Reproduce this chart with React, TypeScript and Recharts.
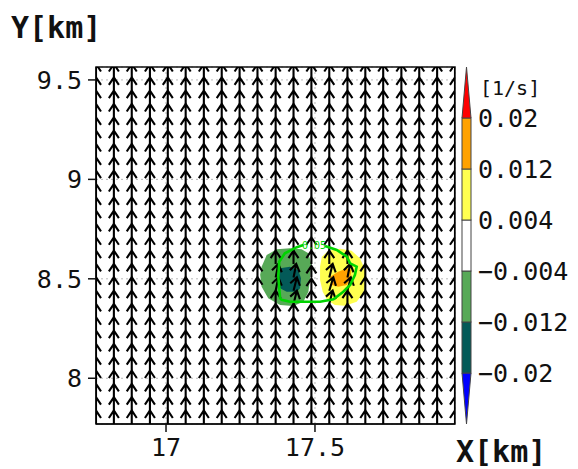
import React from 'react';
import { ComposedChart, Scatter, XAxis, YAxis, CartesianGrid, ReferenceArea, BarChart, Bar } from 'recharts';

// arrow grid (km)
const GRID_X = [16.765, 16.825, 16.885, 16.946, 17.006, 17.066, 17.127, 17.187, 17.247, 17.307, 17.368,
  17.428, 17.488, 17.548, 17.609, 17.669, 17.729, 17.79, 17.85, 17.91, 17.97];
const GRID_Y = [7.77, 7.837, 7.904, 7.971, 8.038, 8.105, 8.172, 8.239, 8.306, 8.373, 8.44, 8.507, 8.574,
  8.641, 8.708, 8.775, 8.842, 8.909, 8.976, 9.043, 9.11, 9.177, 9.244, 9.311, 9.378, 9.445, 9.512];

// arrows bent by the vortex pair, everything else is (0, 1)
const VORTEX_ARROWS = [
  { x: 17.368, y: 8.44, u: 0.2, v: 1 },
  { x: 17.368, y: 8.507, u: 0.2, v: 1 },
  { x: 17.428, y: 8.373, u: 0.25, v: 1 },
  { x: 17.428, y: 8.44, u: 0.25, v: 1 },
  { x: 17.428, y: 8.507, u: 0.2, v: 1 },
  { x: 17.488, y: 8.44, u: 0, v: 0.9 },
  { x: 17.488, y: 8.507, u: 0, v: 0.85 },
  { x: 17.548, y: 8.373, u: 0.25, v: 1 },
  { x: 17.548, y: 8.44, u: 0.3, v: 1 },
  { x: 17.548, y: 8.507, u: 0.25, v: 1 },
  { x: 17.609, y: 8.44, u: 0.25, v: 1 },
  { x: 17.609, y: 8.507, u: 0.2, v: 1 },
];

// filled vorticity regions
const NEG_WEAK = [
  { x: 17.321, y: 8.561 }, { x: 17.338, y: 8.62 }, { x: 17.372, y: 8.649 }, { x: 17.416, y: 8.654 },
  { x: 17.455, y: 8.649 }, { x: 17.478, y: 8.628 }, { x: 17.487, y: 8.578 }, { x: 17.483, y: 8.494 },
  { x: 17.478, y: 8.435 }, { x: 17.461, y: 8.385 }, { x: 17.427, y: 8.363 }, { x: 17.383, y: 8.368 },
  { x: 17.343, y: 8.402 }, { x: 17.321, y: 8.46 }, { x: 17.316, y: 8.519 },
];
const NEG_STRONG = [
  { x: 17.383, y: 8.553 }, { x: 17.416, y: 8.561 }, { x: 17.444, y: 8.544 }, { x: 17.453, y: 8.503 },
  { x: 17.45, y: 8.452 }, { x: 17.439, y: 8.435 }, { x: 17.405, y: 8.435 }, { x: 17.383, y: 8.452 },
  { x: 17.377, y: 8.503 },
];
const POS_WEAK = [
  { x: 17.523, y: 8.611 }, { x: 17.545, y: 8.641 }, { x: 17.584, y: 8.651 }, { x: 17.623, y: 8.641 },
  { x: 17.651, y: 8.603 }, { x: 17.668, y: 8.544 }, { x: 17.671, y: 8.486 }, { x: 17.662, y: 8.427 },
  { x: 17.64, y: 8.385 }, { x: 17.601, y: 8.365 }, { x: 17.567, y: 8.368 }, { x: 17.541, y: 8.394 },
  { x: 17.526, y: 8.435 }, { x: 17.517, y: 8.494 }, { x: 17.517, y: 8.561 },
];
const POS_STRONG = [
  { x: 17.551, y: 8.511 }, { x: 17.578, y: 8.536 }, { x: 17.607, y: 8.553 }, { x: 17.623, y: 8.544 },
  { x: 17.618, y: 8.503 }, { x: 17.607, y: 8.469 }, { x: 17.578, y: 8.46 }, { x: 17.556, y: 8.469 },
];

// 0.05 contour line (open at the label)
const CONTOUR = [
  { x: 17.534, y: 8.665 }, { x: 17.573, y: 8.645 }, { x: 17.607, y: 8.611 }, { x: 17.618, y: 8.578 },
  { x: 17.64, y: 8.561 }, { x: 17.634, y: 8.519 }, { x: 17.618, y: 8.469 }, { x: 17.595, y: 8.435 },
  { x: 17.562, y: 8.397 }, { x: 17.517, y: 8.385 }, { x: 17.461, y: 8.385 }, { x: 17.416, y: 8.385 },
  { x: 17.388, y: 8.394 }, { x: 17.383, y: 8.402 }, { x: 17.377, y: 8.511 }, { x: 17.38, y: 8.586 },
  { x: 17.399, y: 8.628 }, { x: 17.439, y: 8.659 }, { x: 17.461, y: 8.67 },
];
const CONTOUR_LABEL = [{ x: 17.497, y: 8.668, text: '0.05' }];

const X_TICKS = [17, 17.5];
const Y_TICKS = [8, 8.5, 9, 9.5];

// colour bar, bottom to top
const LEVEL_COLORS = ['#0000ff', '#035a58', '#57a957', '#ffffff', '#ffff50', '#ffa200', '#ff0000'];
const LEVEL_LABELS = ['−0.02', '−0.012', '−0.004', '0.004', '0.012', '0.02'];

const FONT = '"DejaVu Sans Mono", monospace';
const ARROW_LEN = 13.5;

const field = GRID_Y.flatMap((y) =>
  GRID_X.map((x) => {
    const p = VORTEX_ARROWS.find((a) => a.x === x && a.y === y);
    return { x, y, u: p ? p.u : 0, v: p ? p.v : 1 };
  })
);

function Arrow(props: any) {
  const { cx, cy, payload } = props;
  if (cx == null || cy == null) return <g />;
  const dx = payload.u * ARROW_LEN;
  const dy = -payload.v * ARROW_LEN;
  const tx = cx + dx;
  const ty = cy + dy;
  const len = Math.hypot(dx, dy);
  const ux = dx / len;
  const uy = dy / len;
  const bx = tx - ux * 7.5;
  const by = ty - uy * 7.5;
  const d = `M${cx},${cy}L${tx},${ty}M${bx - uy * 5},${by + ux * 5}L${tx},${ty}L${bx + uy * 5},${by - ux * 5}`;
  return <path d={d} stroke="#000" strokeWidth={2.1} fill="none" strokeLinejoin="miter" />;
}

const noDot = () => <g />;

const cbRow: any = { name: 'cb' };
LEVEL_COLORS.forEach((c, i) => { cbRow['s' + i] = 1; });

function CbSegment(props: any) {
  const { x, y, width, height, fill, index } = props;
  if (index === 0) {
    return <polygon points={`${x},${y} ${x + width},${y} ${x + width / 2},${y + height}`} fill={fill} stroke="#444" strokeWidth={1} />;
  }
  if (index === LEVEL_COLORS.length - 1) {
    return <polygon points={`${x},${y + height} ${x + width},${y + height} ${x + width / 2},${y}`} fill={fill} stroke="#444" strokeWidth={1} />;
  }
  return <rect x={x} y={y} width={width} height={height} fill={fill} stroke="#444" strokeWidth={1} />;
}

export default function App() {
  const tickStyle = { fontFamily: FONT, fontSize: 25, fill: '#111' };
  return (
    <div style={{ position: 'absolute', left: 0, top: 0, width: 578, height: 469, background: '#fff', overflow: 'hidden' }}>
      <ComposedChart width={578} height={469} margin={{ top: 67, right: 123, bottom: 0, left: 0 }}>
        <XAxis
          type="number"
          dataKey="x"
          domain={[16.765, 17.97]}
          ticks={X_TICKS}
          allowDataOverflow
          height={45}
          tickSize={8}
          tickMargin={6}
          tick={tickStyle}
          stroke="#111"
          tickLine={{ stroke: '#111', strokeWidth: 1.5 }}
          axisLine={{ stroke: '#111', strokeWidth: 1.5 }}
        />
        <YAxis
          type="number"
          dataKey="y"
          domain={[7.77, 9.565]}
          ticks={Y_TICKS}
          allowDataOverflow
          width={96}
          tickSize={8}
          tickMargin={6}
          tick={tickStyle}
          stroke="#111"
          tickLine={{ stroke: '#111', strokeWidth: 1.5 }}
          axisLine={{ stroke: '#111', strokeWidth: 1.5 }}
        />
        <CartesianGrid stroke="#b8b8b8" strokeDasharray="2 3" />
        <Scatter data={NEG_WEAK} shape={noDot} line={{ fill: LEVEL_COLORS[2], stroke: 'none' }} isAnimationActive={false} />
        <Scatter data={NEG_STRONG} shape={noDot} line={{ fill: LEVEL_COLORS[1], stroke: 'none' }} isAnimationActive={false} />
        <Scatter data={POS_WEAK} shape={noDot} line={{ fill: LEVEL_COLORS[4], stroke: 'none' }} isAnimationActive={false} />
        <Scatter data={POS_STRONG} shape={noDot} line={{ fill: LEVEL_COLORS[5], stroke: 'none' }} isAnimationActive={false} />
        <Scatter data={field} shape={Arrow} isAnimationActive={false} />
        <Scatter data={CONTOUR} shape={noDot} line={{ stroke: '#00d400', strokeWidth: 2.6, fill: 'none' }} isAnimationActive={false} />
        <Scatter
          data={CONTOUR_LABEL}
          isAnimationActive={false}
          shape={(p: any) => (
            <text x={p.cx} y={p.cy} fill="#00d400" fontSize={10} fontFamily={FONT} textAnchor="middle" dominantBaseline="central">
              {p.payload.text}
            </text>
          )}
        />
        <ReferenceArea x1={16.765} x2={17.97} y1={7.77} y2={9.565} fill="none" stroke="#111" strokeWidth={1.5} ifOverflow="extendDomain" />
      </ComposedChart>

      <div style={{ position: 'absolute', left: 455.5, top: 67 }}>
        <BarChart width={120} height={357} data={[cbRow]} margin={{ top: 0, right: 0, bottom: 0, left: 0 }} barSize={9}>
          <XAxis dataKey="name" hide />
          <YAxis
            orientation="right"
            type="number"
            domain={[0, LEVEL_COLORS.length]}
            ticks={LEVEL_LABELS.map((_, i) => i + 1)}
            tickFormatter={(v: number) => LEVEL_LABELS[v - 1]}
            width={100}
            axisLine={false}
            tickLine={false}
            tickSize={0}
            tickMargin={2}
            tick={{ fontFamily: FONT, fontSize: 25, fill: '#111', textAnchor: 'start' }}
            interval={0}
          />
          {LEVEL_COLORS.map((c, i) => (
            <Bar key={c} dataKey={'s' + i} stackId="cb" fill={c} shape={(p: any) => <CbSegment {...p} index={i} />} isAnimationActive={false} />
          ))}
        </BarChart>
      </div>

      <svg width={578} height={469} style={{ position: 'absolute', left: 0, top: 0, pointerEvents: 'none' }}>
        <text x={11} y={38} fontFamily={FONT} fontWeight="bold" fontSize={30} fill="#111">Y[km]</text>
        <text x={456} y={462} fontFamily={FONT} fontWeight="bold" fontSize={30} fill="#111">X[km]</text>
        <text x={480} y={95} fontFamily={FONT} fontSize={20} fill="#111">[1/s]</text>
      </svg>
    </div>
  );
}
